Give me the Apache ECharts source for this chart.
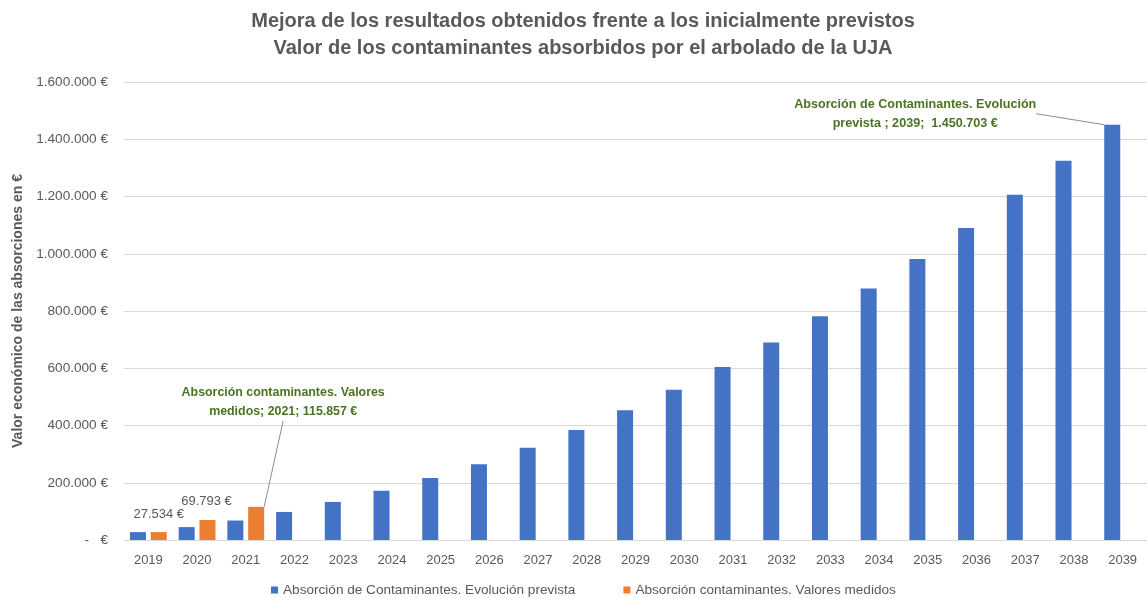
<!DOCTYPE html>
<html>
<head>
<meta charset="utf-8">
<script src="https://cdn.jsdelivr.net/npm/echarts@6/dist/echarts.min.js"></script>
<style>html,body{margin:0;padding:0;background:#fff;}#c{width:1147px;height:599px;}</style>
</head>
<body>
<div id="c"></div>
<script>
const years = ['2019','2020','2021','2022','2023','2024','2025','2026','2027','2028','2029','2030','2031','2032','2033','2034','2035','2036','2037','2038','2039'];
const prevista = [27534, 45000, 68000, 98000, 133000, 172000, 217000, 265000, 322000, 384000, 453000, 525000, 604000, 690000, 782000, 879000, 982000, 1090000, 1206000, 1325000, 1450703];
const medidos = [27534, 69793, 115857, null, null, null, null, null, null, null, null, null, null, null, null, null, null, null, null, null, null];
const seriesNames = ['Absorción de Contaminantes. Evolución prevista', 'Absorción contaminantes. Valores medidos'];
const titleText = 'Mejora de los resultados obtenidos frente a los inicialmente previstos\nValor de los contaminantes absorbidos por el arbolado de la UJA';
const yAxisName = 'Valor económico de las absorciones en €';

function fmt(v) {
  if (v === 0) return '-   €';
  return String(Math.round(v)).replace(/\B(?=(\d{3})+(?!\d))/g, '.') + ' €';
}

const FONT = 'Liberation Sans, Arial, sans-serif';
const GREY = '#595959';
const GREEN = '#4A7424';

const blueData = prevista.map((v, i) => {
  if (i === prevista.length - 1) {
    return {
      value: v,
      label: {
        show: true, position: 'top',
        formatter: 'Absorción de Contaminantes. Evolución\nprevista ; 2039;  ' + fmt(v),
        color: GREEN, fontWeight: 'bold', fontSize: 12.6, lineHeight: 19, fontFamily: FONT, align: 'center'
      },
      labelLine: { show: true, lineStyle: { color: '#8c8c8c', width: 1 } }
    };
  }
  return v;
});

const orangeData = medidos.map((v, i) => {
  if (v == null) return v;
  if (i === 2) {
    return {
      value: v,
      label: {
        show: true, position: 'top',
        formatter: 'Absorción contaminantes. Valores\nmedidos; ' + years[i] + '; ' + fmt(v),
        color: GREEN, fontWeight: 'bold', fontSize: 12.4, lineHeight: 19, fontFamily: FONT, align: 'center'
      },
      labelLine: { show: true, lineStyle: { color: '#8c8c8c', width: 1 } }
    };
  }
  return {
    value: v,
    label: { show: true, position: 'top', formatter: fmt(v), color: GREY, fontSize: 13, fontFamily: FONT }
  };
});

const chart = echarts.init(document.getElementById('c'), null, { renderer: 'canvas' });
chart.setOption({
  backgroundColor: '#fff',
  animation: false,
  title: {
    text: titleText,
    left: 583,
    textAlign: 'center',
    top: 8,
    padding: 0,
    textStyle: { fontFamily: FONT, fontSize: 20, fontWeight: 'bold', color: GREY, lineHeight: 27 }
  },
  legend: {
    bottom: 2,
    left: 271,
    padding: 0,
    icon: 'rect',
    itemWidth: 7,
    itemHeight: 7,
    itemGap: 48,
    textStyle: { fontFamily: FONT, fontSize: 13.6, color: GREY },
    data: seriesNames
  },
  grid: { left: 124, width: 1035, top: 82, bottom: 59, containLabel: false },
  xAxis: {
    type: 'category',
    data: years,
    axisLine: { lineStyle: { color: '#d9d9d9' } },
    axisTick: { show: false },
    axisLabel: { color: GREY, fontFamily: FONT, fontSize: 13, margin: 14 }
  },
  yAxis: {
    type: 'value',
    min: 0, max: 1600000, interval: 200000,
    name: yAxisName,
    nameLocation: 'middle',
    nameGap: 99,
    nameTextStyle: { fontFamily: FONT, fontSize: 14, fontWeight: 'bold', color: GREY },
    axisLine: { show: false },
    axisTick: { show: false },
    splitLine: { lineStyle: { color: '#d9d9d9' } },
    axisLabel: { color: GREY, fontFamily: FONT, fontSize: 13.6, margin: 16, formatter: fmt }
  },
  series: [
    {
      name: seriesNames[0], type: 'bar', data: blueData,
      barWidth: 16, barGap: '30%',
      itemStyle: { color: '#4472C4' },
      labelLayout: function (p) {
        if (p.dataIndex === prevista.length - 1) return { dx: -197, dy: 13 };
        return {};
      }
    },
    {
      name: seriesNames[1], type: 'bar', data: orangeData,
      barWidth: 16, barGap: '30%',
      itemStyle: { color: '#ED7D31' },
      labelLayout: function (p) {
        if (p.dataIndex === 2) return { dx: 27, dy: -81 };
        if (p.dataIndex === 1) return { dx: -1, dy: -7 };
        if (p.dataIndex === 0) return { dx: 0, dy: -6 };
        return {};
      }
    }
  ]
});
</script>
</body>
</html>
